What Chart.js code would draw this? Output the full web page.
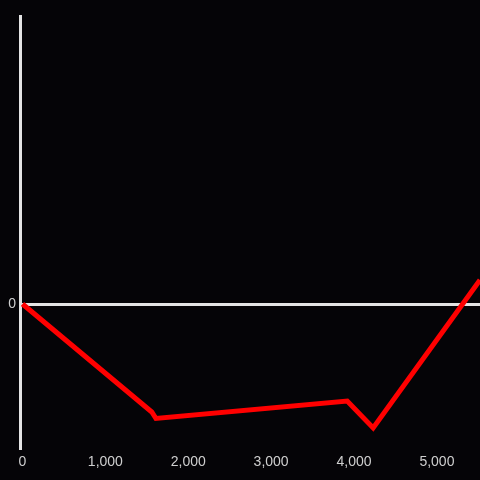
<!DOCTYPE html>
<html>
<head>
<meta charset="utf-8">
<script src="https://cdn.jsdelivr.net/npm/chart.js@4"></script>
<style>
  html, body { margin: 0; padding: 0; background: #050407; }
  #wrap { width: 480px; height: 480px; }
</style>
</head>
<body>
<div id="wrap"><canvas id="chart"></canvas></div>
<script>
// Series
const xValues = [0, 1560, 1610, 3918, 4231, 5520];
const yValues = [0, -0.75, -0.795, -0.674, -0.861, 0.167];
const xTicks = [0, 1000, 2000, 3000, 4000, 5000];
const yTicks = [0];

const points = xValues.map((x, i) => ({ x: x, y: yValues[i] }));

const axisColor = '#e4e4e4';
const tickFont = { family: 'Liberation Sans', size: 14 };

const config = {
    type: 'scatter',
    data: {
        datasets: [{
            data: points,
            showLine: true,
            borderColor: '#ff0000',
            borderWidth: 5,
            tension: 0,
            pointRadius: 0,
            pointHoverRadius: 0
        }]
    },
    options: {
        responsive: true,
        maintainAspectRatio: false,
        animation: false,
        layout: { padding: { top: 16, right: 0, left: 0, bottom: 0 } },
        plugins: { legend: { display: false }, tooltip: { enabled: false } },
        scales: {
            x: {
                type: 'linear',
                min: -30,
                max: 5520,
                grid: { display: false, drawTicks: false },
                border: { display: false },
                afterBuildTicks: (s) => { s.ticks = xTicks.map(v => ({ value: v })); },
                ticks: {
                    color: '#cfcfcf',
                    font: tickFont,
                    padding: 6,
                    maxRotation: 0,
                    autoSkip: false,
                    callback: (v) => v.toLocaleString('en-US')
                },
                afterFit: (s) => { s.height = 32; }
            },
            y: {
                min: -1,
                max: 2,
                grid: {
                    drawTicks: false,
                    lineWidth: 3,
                    color: axisColor
                },
                border: { display: true, color: axisColor, width: 3 },
                afterBuildTicks: (s) => { s.ticks = yTicks.map(v => ({ value: v })); },
                ticks: {
                    color: '#cfcfcf',
                    font: tickFont,
                    padding: 4
                },
                afterFit: (s) => { s.width = 20; }
            }
        }
    }
};

window.addEventListener('DOMContentLoaded', () => {
    new Chart(document.getElementById('chart'), config);
});
</script>
</body>
</html>
